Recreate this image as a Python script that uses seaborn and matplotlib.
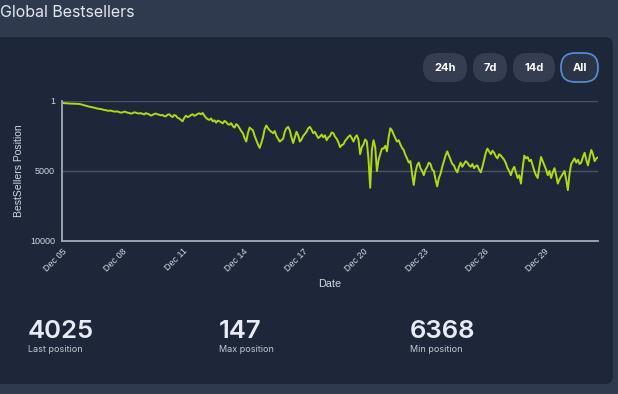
import numpy as np
import pandas as pd
import seaborn as sns
import matplotlib.pyplot as plt
import matplotlib.dates as mdates
from matplotlib.patches import FancyBboxPatch

# bestseller position, one reading every 2 hours from Dec 05 00:00
positions = [
    147, 150, 160, 165, 180, 185, 190, 195, 200, 205, 210, 230,              # Dec 05
    260, 300, 330, 360, 400, 420, 450, 470, 500, 540, 560, 570,              # Dec 06
    600, 640, 650, 690, 700, 680, 720, 750, 760, 740, 790, 830,              # Dec 07
    820, 760, 780, 830, 850, 900, 880, 810, 830, 870, 900, 860,              # Dec 08
    920, 960, 870, 910, 950, 1040, 1000, 930, 900, 950, 980, 1020,           # Dec 09
    1000, 1080, 1100, 980, 950, 1060, 1150, 1000, 1050, 1200, 1250, 1350,    # Dec 10
    1450, 1200, 1050, 1150, 1100, 1000, 950, 1060, 1000, 920, 880, 950,      # Dec 11
    860, 1050, 1200, 1300, 1350, 1250, 1450, 1380, 1550, 1400, 1450, 1520,   # Dec 12
    1600, 1420, 1500, 1650, 1700, 1580, 1800, 1900, 1650, 1750, 1950, 2150,  # Dec 13
    2300, 2650, 2900, 2300, 1900, 2000, 2100, 2500, 2800, 3100, 3350, 3000,  # Dec 14
    2600, 2000, 1750, 1950, 2100, 2200, 2300, 2150, 2500, 2700, 2900, 2800,  # Dec 15
    2700, 2200, 1950, 1850, 2100, 2600, 3000, 2600, 2200, 2450, 2900, 2750,  # Dec 16
    2500, 2350, 2200, 1950, 1850, 2050, 2300, 2200, 2450, 2650, 2550, 2400,  # Dec 17
    2600, 2450, 2800, 2600, 2500, 2250, 2300, 2550, 2700, 2950, 3300, 3150,  # Dec 18
    3100, 2850, 2700, 2550, 2450, 2650, 2900, 2600, 2450, 2750, 3800, 3300,  # Dec 19
    3100, 2750, 2900, 4200, 6200, 3500, 2800, 3300, 5000, 4200, 3800, 3400,  # Dec 20
    3400, 3200, 3600, 2600, 1950, 2100, 2400, 2650, 2900, 2800, 3100, 3350,  # Dec 21
    3500, 3850, 4100, 4400, 4300, 5200, 6000, 5100, 4600, 4400, 4800, 5000,  # Dec 22
    5300, 4900, 4700, 4400, 4500, 4900, 5000, 5600, 6100, 5500, 5200, 4700,  # Dec 23
    4300, 3900, 3600, 3900, 4200, 4500, 4600, 4900, 5100, 4700, 4400, 4700,  # Dec 24
    4500, 4300, 4400, 4600, 4700, 4500, 4800, 4650, 4600, 4900, 5100, 4700,  # Dec 25
    4200, 3700, 3400, 3600, 3800, 3550, 3700, 3950, 4100, 3800, 3900, 4050,  # Dec 26
    4200, 4450, 4800, 5000, 5300, 4900, 4700, 5100, 5500, 5300, 5900, 4800,  # Dec 27
    3900, 4100, 4000, 4300, 4200, 4600, 5000, 5300, 5500, 4700, 4000, 4300,  # Dec 28
    4600, 4900, 5300, 5000, 5500, 5100, 4800, 5300, 5900, 5600, 5400, 5200,  # Dec 29
    5000, 5600, 6368, 5200, 4500, 4300, 4100, 4400, 4200, 4500, 4400, 4000,  # Dec 30
    3700, 4200, 4600, 4000, 3500, 3800, 4300, 4100, 4025,                    # Dec 31
]
dates = pd.date_range('2023-12-05 00:00', periods=len(positions), freq='2h')

y_ticks = [1, 5000, 10000]
buttons = ['24h', '7d', '14d', 'All']
stat_values = ['4025', '147', '6368']
stat_labels = ['Last position', 'Max position', 'Min position']

outer_bg = '#2f3a4e'
card_bg = '#1e2639'
text_col = '#d3d8e0'
line_col = '#b2d915'

sns.set_theme(style='dark')
plt.rcParams['font.family'] = ['Liberation Sans', 'DejaVu Sans']

fig = plt.figure(figsize=(6.18, 3.94), dpi=100, facecolor=outer_bg)

# background layer in pixel coordinates
bg = fig.add_axes([0, 0, 1, 1])
bg.set_xlim(0, 618)
bg.set_ylim(394, 0)
bg.axis('off')
bg.add_patch(FancyBboxPatch((-20, 37), 633, 347,
                            boxstyle='round,pad=0,rounding_size=8',
                            fc=card_bg, ec='none'))
bg.text(0, 12, 'Global Bestsellers', color='#e3e8ef', fontsize=11.5,
        family=['Inter', 'DejaVu Sans'], va='center', ha='left')

btn_x = [423, 473, 513, 561]
btn_w = [44, 34, 42, 37]
for label, x0, w in zip(buttons, btn_x, btn_w):
    selected = label == 'All'
    bg.add_patch(FancyBboxPatch((x0, 53), w, 29,
                                boxstyle='round,pad=0,rounding_size=14',
                                fc='#2a3446' if selected else '#343e50',
                                ec='#5a8fd8' if selected else 'none', lw=1.2))
    bg.text(x0 + w / 2, 68, label, color='white', fontsize=8, weight='bold',
            family=['Inter', 'DejaVu Sans'], ha='center', va='center')

for i, (val, lab) in enumerate(zip(stat_values, stat_labels)):
    x0 = [28, 219, 410][i]
    bg.text(x0, 331, val, color='#e8edf5', fontsize=18.5, weight='semibold',
            family=['Inter', 'DejaVu Sans'], ha='left', va='center')
    bg.text(x0, 349, lab, color='#c5cad3', fontsize=6.5,
            family=['Inter', 'DejaVu Sans'], ha='left', va='center')

# chart
ax = fig.add_axes([62 / 618, 1 - 241 / 394, 536 / 618, 140 / 394])
ax.set_facecolor('none')
sns.lineplot(x=dates, y=positions, ax=ax, color=line_col, linewidth=1.4)

ax.set_ylim(10000, 1)
ax.set_yticks(y_ticks)
ax.set_xlim(dates[0], dates[-1])
ax.xaxis.set_major_locator(mdates.DayLocator(bymonthday=range(5, 32, 3)))
ax.xaxis.set_major_formatter(mdates.DateFormatter('%b %d'))

ax.grid(axis='y', color='#4b5466', lw=1)
ax.grid(axis='x', visible=False)
for side in ['top', 'right']:
    ax.spines[side].set_visible(False)
for side in ['left', 'bottom']:
    ax.spines[side].set_color('#a3abb7')
    ax.spines[side].set_linewidth(1.3)

ax.tick_params(axis='y', colors=text_col, labelsize=6.5, length=3,
               width=0.8, pad=2, color='#a3abb7')
ax.tick_params(axis='x', colors=text_col, labelsize=6.5, length=0, pad=4)
for lbl in ax.get_xticklabels():
    lbl.set_rotation(45)
    lbl.set_ha('right')
    lbl.set_rotation_mode('anchor')

ax.set_xlabel('Date', color=text_col, fontsize=7.8, labelpad=4)
ax.set_ylabel('BestSellers Position', color=text_col, fontsize=7.5, labelpad=4)

fig.savefig('out.png', dpi=100, facecolor=outer_bg)
